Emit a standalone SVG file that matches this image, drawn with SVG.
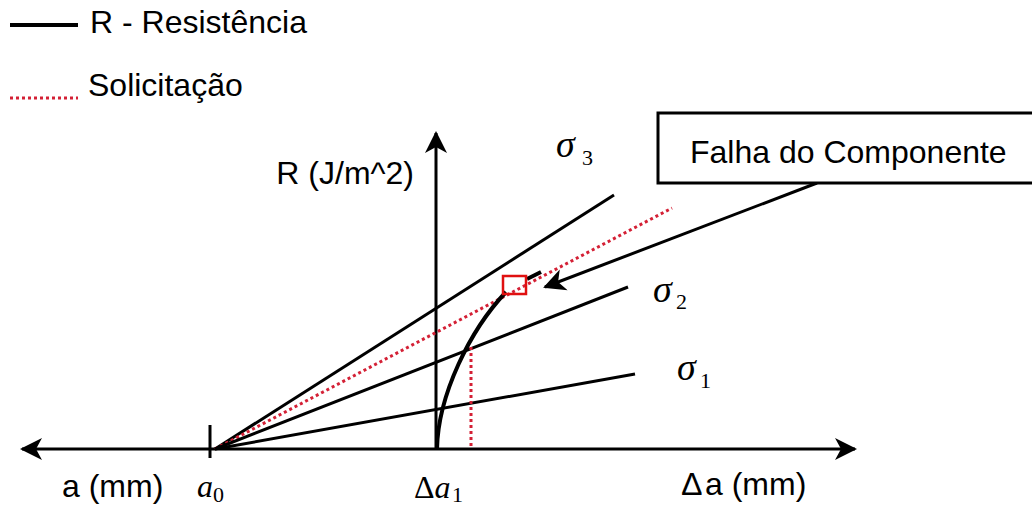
<svg xmlns="http://www.w3.org/2000/svg" width="1032" height="508" viewBox="0 0 1032 508">
<style>
.sans{font-family:"Liberation Sans",Arial,sans-serif;font-size:32px;fill:#000}
.math{font-family:"Liberation Serif","Times New Roman",serif;font-style:italic;font-size:32px;fill:#000}
.sig{font-family:"Liberation Serif","Times New Roman",serif;font-style:italic;font-size:38px;fill:#000}
.sub{font-family:"Liberation Serif","Times New Roman",serif;font-size:22px;fill:#000}
.ln{stroke:#000;stroke-width:3;fill:none}
.red{stroke:#d42035;stroke-width:3;stroke-dasharray:3 3;fill:none}
</style>
<defs>
<marker id="ah" markerWidth="24" markerHeight="24" refX="20" refY="12" orient="auto" markerUnits="userSpaceOnUse">
<path d="M0,1 L22,12 L0,23 L6,12 Z" fill="#000"/>
</marker>
</defs>
<g id="legend">
<line x1="10" y1="25" x2="78" y2="25" stroke="#000" stroke-width="4"/>
<text class="sans" x="90" y="33">R - Resistência</text>
<line x1="10" y1="98" x2="78" y2="98" class="red"/>
<text class="sans" x="88" y="96">Solicitação</text>
</g>
<g id="connectors">
<line id="x-left" class="ln" x1="436" y1="449" x2="22" y2="449" marker-end="url(#ah)"/>
<line id="x-right" class="ln" x1="436" y1="449" x2="855" y2="449" marker-end="url(#ah)"/>
<line id="y-axis" class="ln" x1="436" y1="449" x2="436" y2="133" marker-end="url(#ah)"/>
<line id="tick" class="ln" x1="210" y1="425" x2="210" y2="458"/>
<line id="s3" class="ln" x1="215" y1="449" x2="614" y2="195"/>
<line id="sol" class="red" x1="215" y1="449" x2="672" y2="208"/>
<line id="s2" class="ln" x1="215" y1="449" x2="628" y2="287"/>
<line id="s1" class="ln" x1="215" y1="449" x2="635" y2="374"/>
<path id="curve" d="M437,449 C438,395 470,330 506,292" stroke="#000" stroke-width="4" fill="none"/>
<line id="vdot" class="red" x1="471" y1="347" x2="471" y2="449"/>
<line id="falha-arrow" class="ln" x1="817" y1="183" x2="545" y2="287" marker-end="url(#ah)"/>
<line x1="527" y1="279" x2="541" y2="272" stroke="#000" stroke-width="4"/>
</g>
<g id="failpoint">
<rect x="503" y="276" width="23" height="18" fill="none" stroke="#e01010" stroke-width="2.5"/>
</g>
<g id="falha">
<rect x="658" y="113" width="420" height="70" fill="#fff" stroke="#000" stroke-width="3"/>
<text class="sans" x="690" y="163">Falha do Componente</text>
</g>
<g id="labels">
<text class="sans" x="414" y="184" text-anchor="end">R (J/m^2)</text>
<text class="sig" x="556" y="157">σ</text><text class="sub" x="582" y="165">3</text>
<text class="sig" x="653" y="302">σ</text><text class="sub" x="676" y="309">2</text>
<text class="sig" x="677" y="380">σ</text><text class="sub" x="700" y="388">1</text>
<text class="sans" x="62" y="497">a (mm)</text>
<text class="math" x="197" y="497">a</text><text class="sub" x="213" y="502" font-size="20">0</text>
<text class="math" x="414" y="498"><tspan font-style="normal">Δ</tspan>a</text><text class="sub" x="452" y="502">1</text>
<text class="sans" x="682" y="495" font-size="26">∆</text>
<text class="sans" x="705" y="495">a (mm)</text>
</g>
</svg>
